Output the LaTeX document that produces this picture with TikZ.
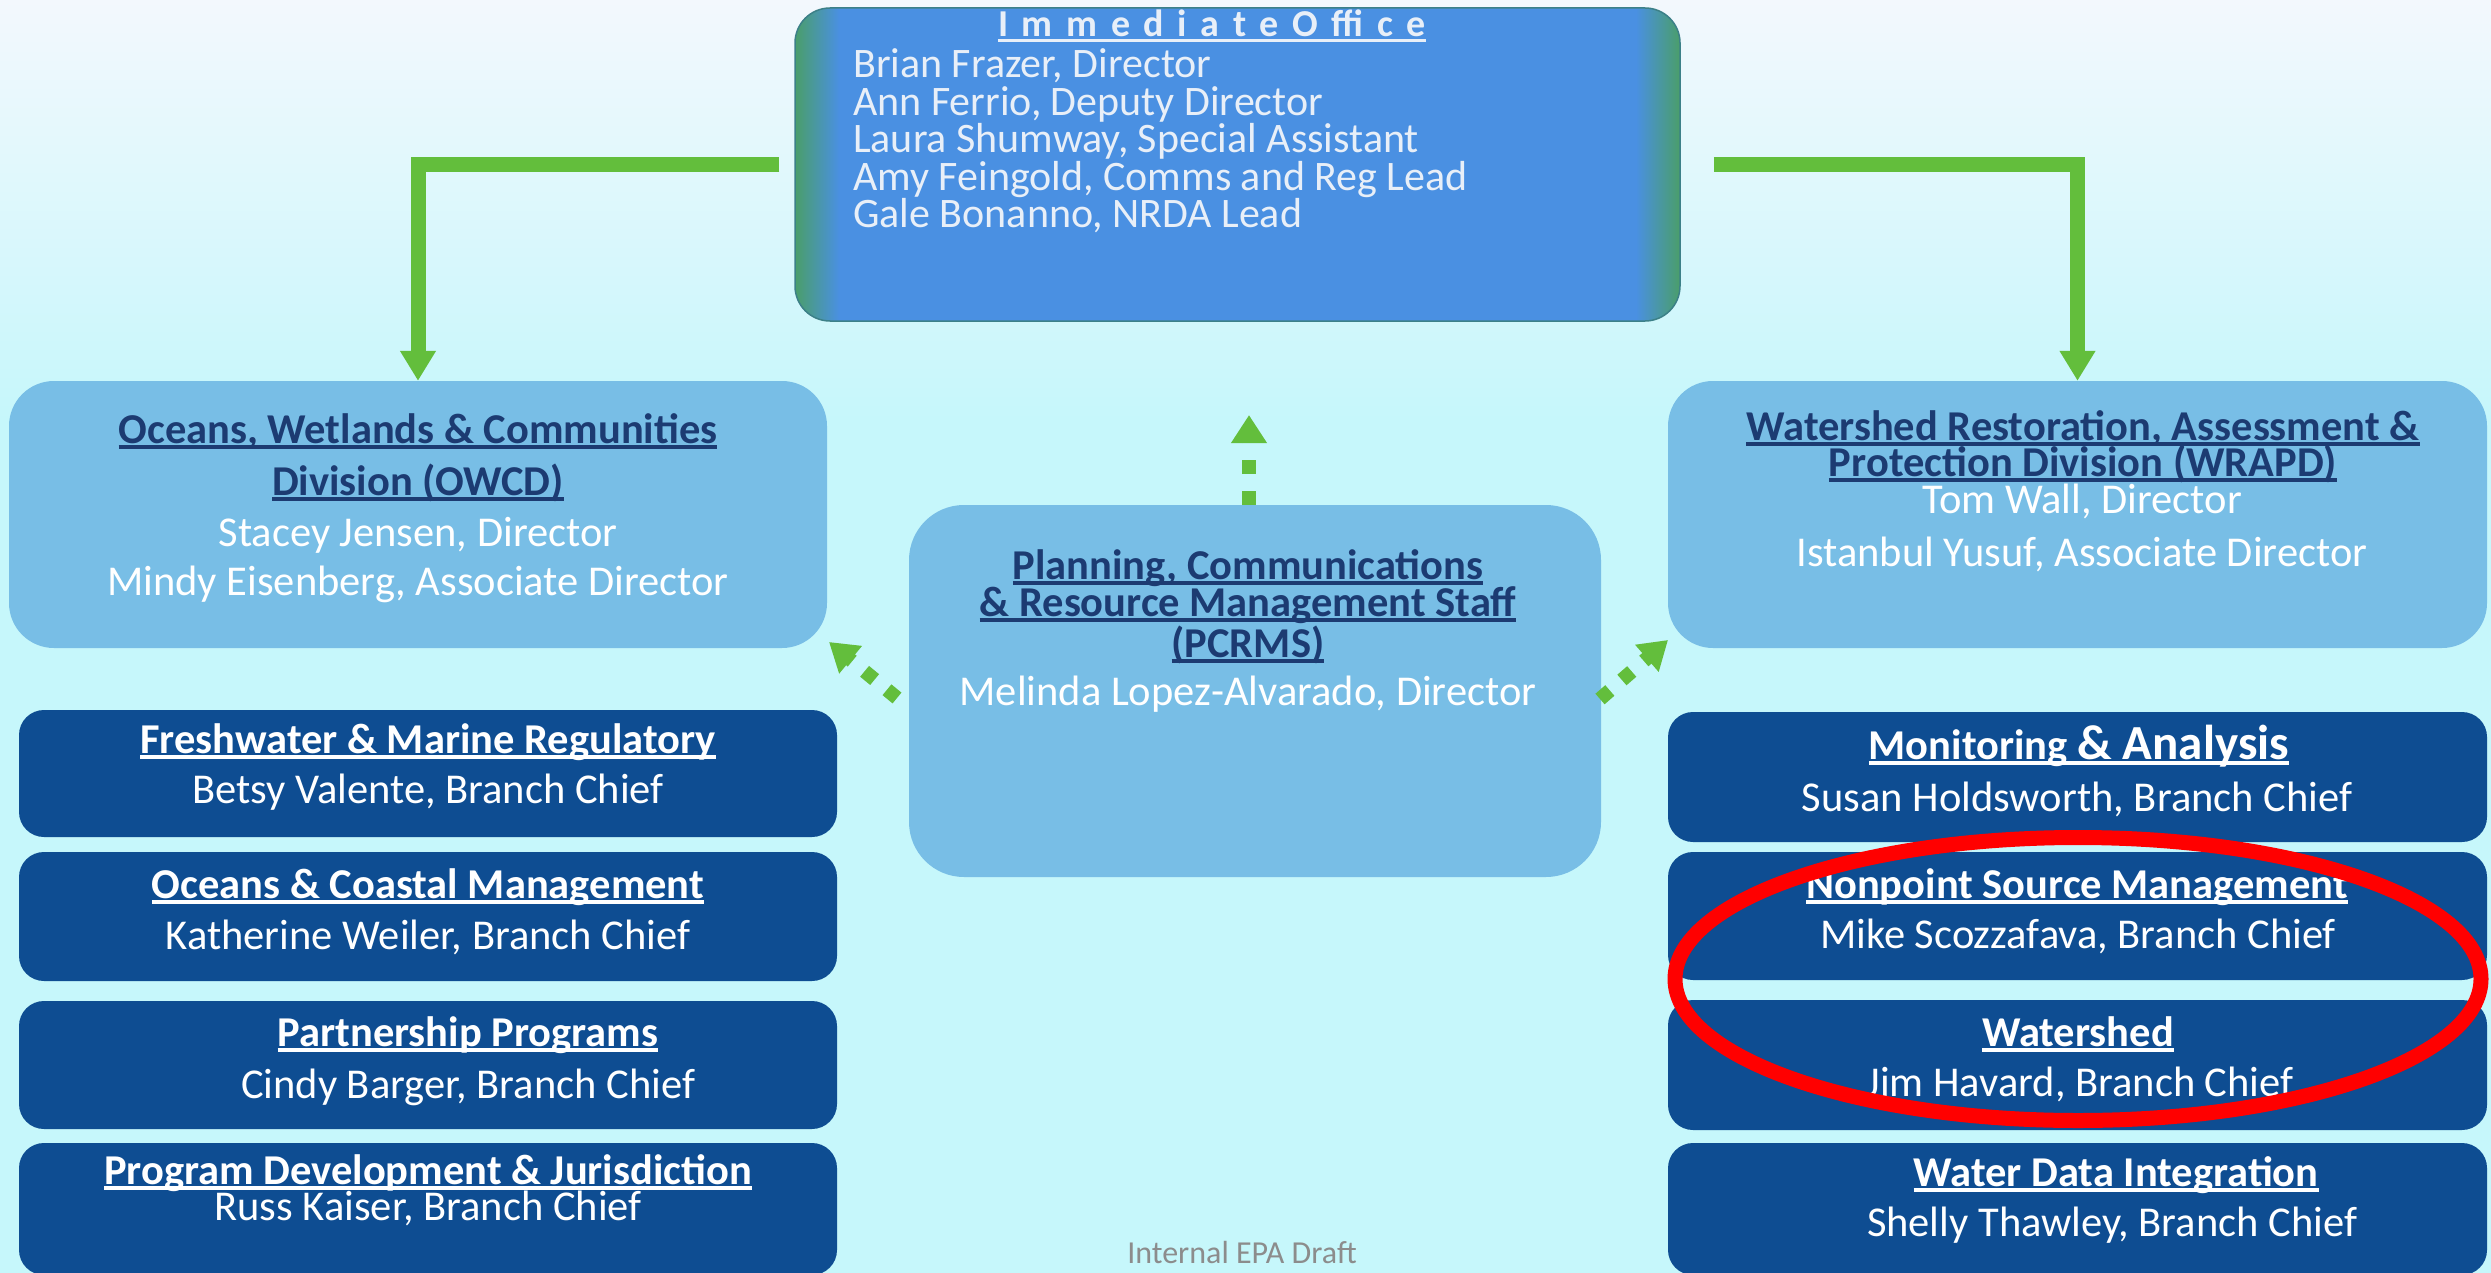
\documentclass[tikz,border=0pt]{standalone}
\usepackage{fontspec}
\setmainfont{Carlito}
\newfontfamily\iofont{Carlito}[LetterSpace=36]
\usetikzlibrary{arrows.meta,shapes.geometric}
\definecolor{bgtop}{HTML}{F3F8FD}
\definecolor{bgbot}{HTML}{C6F7FB}
\definecolor{lightbox}{HTML}{78BEE6}
\definecolor{darkbox}{HTML}{0E4D92}
\definecolor{ioblue}{HTML}{4A90E2}
\definecolor{iogreen}{HTML}{4A9E6A}
\definecolor{ioedge}{HTML}{3C8088}
\definecolor{iotext}{HTML}{E8EFF8}
\definecolor{navy}{HTML}{1C3B72}
\definecolor{agreen}{HTML}{63BE3C}
\definecolor{draftgray}{HTML}{8C8C8C}
\definecolor{hlred}{HTML}{FF0000}
\pgfdeclarehorizontalshading{ioshade}{100bp}{color(0bp)=(iogreen); color(25bp)=(iogreen); color(27.5bp)=(ioblue); color(72.5bp)=(ioblue); color(75bp)=(iogreen); color(100bp)=(iogreen)}
\newsavebox\myulbox
\newcommand{\myul}[1]{\sbox\myulbox{#1}\leavevmode\rlap{\rule[-0.13em]{\wd\myulbox}{0.075em}}\usebox\myulbox}
\newcommand{\setfs}[1]{\fontsize{#1}{#1}\selectfont}
\tikzset{
  lbox/.style={rectangle, rounded corners=45pt, fill=lightbox, inner sep=0pt},
  dbox/.style={rectangle, rounded corners=25pt, fill=darkbox, inner sep=0pt},
  iobox/.style={rectangle, rounded corners=35pt, shade, shading=ioshade, draw=ioedge, line width=1.5pt, inner sep=0pt},
  iottl/.style={anchor=base, inner sep=0pt, font=\iofont\bfseries\setfs{38}, text=iotext},
  ioline/.style={anchor=base west, inner sep=0pt, font=\setfs{42}, text=iotext},
  lttl/.style={anchor=base, inner sep=0pt, font=\bfseries\setfs{42.5}, text=navy},
  dttl/.style={anchor=base, inner sep=0pt, font=\bfseries\setfs{42.5}, text=white},
  nm/.style={anchor=base, inner sep=0pt, font=\setfs{42.5}, text=white},
  garrow/.style={draw=agreen, line width=15pt, -{Triangle[width=34pt,length=30pt]}},
  darrow/.style={draw=agreen, line width=14pt, dash pattern=on 14pt off 17pt, -{Triangle[width=34pt,length=28pt]}},
}
\begin{document}
\begin{tikzpicture}[x=1pt,y=-1pt]
\useasboundingbox (0,0) rectangle (2491,1273);
% background
\shade[top color=bgtop, bottom color=bgbot] (0,0) rectangle (2491,420);
\fill[bgbot] (0,420) rectangle (2491,1273);

% boxes
\node[iobox, minimum width=885pt, minimum height=313pt] (io) at (1237.5,164.5) {};
\node[lbox, minimum width=818pt, minimum height=267pt] (owcd) at (418,514.5) {};
\node[lbox, minimum width=819pt, minimum height=267pt] (wrapd) at (2077.5,514.5) {};
\node[lbox, rounded corners=55pt, minimum width=692pt, minimum height=372pt] (pcrms) at (1255,691) {};
\node[dbox, minimum width=818pt, minimum height=127pt] (l1) at (428,773.5) {};
\node[dbox, minimum width=818pt, minimum height=129pt] (l2) at (428,916.5) {};
\node[dbox, minimum width=818pt, minimum height=128pt] (l3) at (428,1065) {};
\node[dbox, minimum width=818pt, minimum height=132pt] (l4) at (428,1209) {};
\node[dbox, minimum width=819pt, minimum height=130pt] (r1) at (2077.5,777) {};
\node[dbox, minimum width=819pt, minimum height=128pt] (r2) at (2077.5,916) {};
\node[dbox, minimum width=819pt, minimum height=130pt] (r3) at (2077.5,1065) {};
\node[dbox, minimum width=819pt, minimum height=132pt] (r4) at (2077.5,1209) {};

% connectors
\draw[garrow] ([xshift=-15pt]io.west) -| (owcd.north);
\draw[garrow] ([xshift=33pt]io.east) -| (wrapd.north);
\coordinate (upend) at (1249,415);
\coordinate (upstart) at (1249,505);
\draw[darrow] (upstart) -- (upend);
\coordinate (dlstart) at (897,698);
\coordinate (dlend) at (829,642);
\draw[darrow, dash pattern=on 13pt off 16pt] (dlstart) -- (dlend);
\coordinate (drstart) at (1600,699);
\coordinate (drend) at (1668,640);
\draw[darrow, dash pattern=on 13pt off 16pt] (drstart) -- (drend);

% Immediate office text
\node[iottl] (iot) at (1212,37) {\myul{ImmediateOffice}};
\node[ioline] (io1) at (853,78) {Brian Frazer, Director};
\node[ioline] (io2) at (853,116) {Ann Ferrio, Deputy Director};
\node[ioline] (io3) at (853,153) {Laura Shumway, Special Assistant};
\node[ioline] (io4) at (853,191) {Amy Feingold, Comms and Reg Lead};
\node[ioline] (io5) at (853,228) {Gale Bonanno, NRDA Lead};

% OWCD
\node[lttl] (owt1) at (418,443) {\myul{Oceans, Wetlands \& Communities}};
\node[lttl] (owt2) at (418,495) {\myul{Division (OWCD)}};
\node[nm] (own1) at (418,546) {Stacey Jensen, Director};
\node[nm] (own2) at (418,595) {Mindy Eisenberg, Associate Director};

% WRAPD
\node[lttl] (wrt1) at (2083,440) {\myul{Watershed Restoration, Assessment \&}};
\node[lttl] (wrt2) at (2083,476) {\myul{Protection Division (WRAPD)}};
\node[nm] (wrn1) at (2082,513) {Tom Wall, Director};
\node[nm] (wrn2) at (2082,566) {Istanbul Yusuf, Associate Director};

% PCRMS
\node[lttl] (pct1) at (1248,579) {\myul{Planning, Communications}};
\node[lttl] (pct2) at (1248,616) {\myul{\& Resource Management Staff}};
\node[lttl] (pct3) at (1248,657) {\myul{(PCRMS)}};
\node[nm] (pcn1) at (1248,705) {Melinda Lopez-Alvarado, Director};

% left branches
\node[dttl] (l1t) at (428,753) {\myul{Freshwater \& Marine Regulatory}};
\node[nm] (l1n) at (428,803) {Betsy Valente, Branch Chief};
\node[dttl] (l2t) at (428,898) {\myul{Oceans \& Coastal Management}};
\node[nm] (l2n) at (428,949) {Katherine Weiler, Branch Chief};
\node[dttl] (l3t) at (468,1046) {\myul{Partnership Programs}};
\node[nm] (l3n) at (468,1098) {Cindy Barger, Branch Chief};
\node[dttl] (l4t) at (428,1184) {\myul{Program Development \& Jurisdiction}};
\node[nm] (l4n) at (428,1220) {Russ Kaiser, Branch Chief};

% right branches
\node[dttl] (r1t) at (2079,759) {\myul{Monitoring {\setfs{49}\& Analysis}}};
\node[nm] (r1n) at (2077,811) {Susan Holdsworth, Branch Chief};
\node[dttl] (r2t) at (2077,898) {\myul{Nonpoint Source Management}};
\node[nm] (r2n) at (2078,948) {Mike Scozzafava, Branch Chief};
\node[dttl] (r3t) at (2078,1046) {\myul{Watershed}};
\node[nm] (r3n) at (2080,1096) {Jim Havard, Branch Chief};
\node[dttl] (r4t) at (2116,1186) {\myul{Water Data Integration}};
\node[nm] (r4n) at (2112,1236) {Shelly Thawley, Branch Chief};

% footer
\node[anchor=base, inner sep=0pt, font=\setfs{32}, text=draftgray] (draft) at (1242,1263) {Internal EPA Draft};

% highlight
\node[draw=hlred, line width=15pt, ellipse, inner sep=0pt, minimum width=806pt, minimum height=283pt] (hl) at (2078,979) {};
\end{tikzpicture}
\end{document}
